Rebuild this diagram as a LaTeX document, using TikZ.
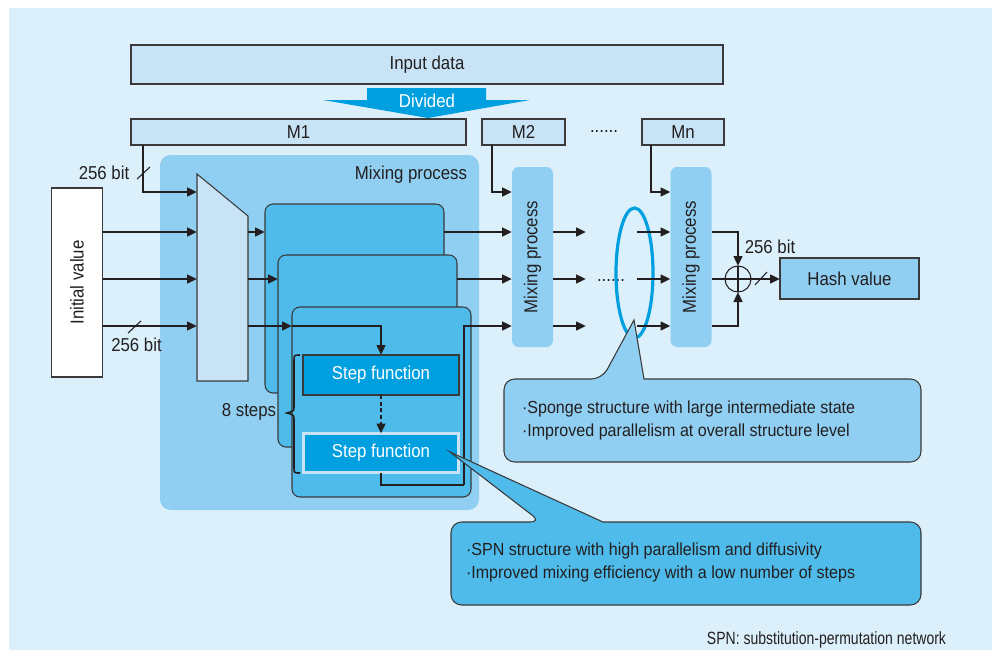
\documentclass[tikz,border=0pt]{standalone}
\usepackage{fontspec}
\setmainfont{Liberation Sans}[FakeStretch=0.9]
\newfontfamily\calloutfont{Liberation Sans}[FakeStretch=0.92]
\newfontfamily\notefont{Liberation Sans}[FakeStretch=0.79]
\usetikzlibrary{arrows.meta,shapes.geometric,calc}
\definecolor{bgc}{HTML}{DBF0FB}
\definecolor{lightc}{HTML}{C8E3F6}
\definecolor{midc}{HTML}{90CFF1}
\definecolor{stackc}{HTML}{4EBBEA}
\definecolor{deepc}{HTML}{009FE0}
\definecolor{ink}{HTML}{231F20}
\definecolor{edgec}{HTML}{3A3A3A}
\begin{document}
\begin{tikzpicture}[x=0.75pt,y=-0.75pt,
  every node/.style={font=\fontsize{14}{17.25}\selectfont, text=ink, inner sep=0pt, outer sep=0pt},
  bw/.style={minimum width=#1*0.75pt},
  bh/.style={minimum height=#1*0.75pt},
  lbox/.style={draw=edgec, fill=lightc, line width=0.8pt},
  stackbox/.style={draw=edgec, fill=stackc, rounded corners=6pt, line width=0.8pt},
  mpbox/.style={fill=midc, rounded corners=5pt},
  wire/.style={draw=ink, line width=1.8pt},
  conn/.style={wire, -{Triangle[length=7.5pt,width=6.5pt]}},
  slash/.style={draw=ink, line width=0.8pt},
  callout/.style={draw=edgec, line width=0.8pt},
  callouttext/.style={anchor=west, align=left, font=\calloutfont\fontsize{13.1}{17.25}\selectfont}
]
\useasboundingbox (0,0) rectangle (995,650);
\fill[white] (0,0) rectangle (995,650);
\fill[bgc] (9,8) rectangle (992,650);

% input data and division
\node[lbox,bw=592,bh=39] (input) at (427,64.5) {Input data};
\fill[deepc] (367,88) -- (486,88) -- (486,100) -- (530,100) -- (428,118) -- (323,100) -- (367,100) -- cycle;
\node[text=white] (divided) at (427,101) {Divided};

\node[lbox,bw=335,bh=26] (M1) at (298.5,132) {M1};
\node[lbox,bw=83,bh=26] (M2) at (523.5,132) {M2};
\node[lbox,bw=82,bh=26] (Mn) at (683,132) {Mn};
\node[anchor=base] (mdots) at (604,132.5) {......};

% mixing process region
\node[fill=midc, rounded corners=8pt, bw=319, bh=355] (mixreg) at (319.5,332.5) {};
\node[anchor=east] (mixlabel) at (467,175) {Mixing process};

% initial value
\node[draw=edgec, fill=white, line width=0.8pt, bw=51, bh=189] (iv) at (77,282.5) {};
\node[rotate=90] (ivtext) at (iv.center) {Initial value};

% mux
\draw[fill=lightc, draw=edgec, line width=0.8pt] (197,174) -- (248,216) -- (248,381) -- (197,381) -- cycle;
\coordinate (mi1) at (197,192);
\coordinate (mi2) at (197,232);
\coordinate (mi3) at (197,279);
\coordinate (mi4) at (197,326);
\coordinate (mo2) at (248,232);
\coordinate (mo3) at (248,279);
\coordinate (mo4) at (248,326);

% stacked mixing boxes
\node[stackbox,bw=179,bh=189] (s1) at (354.5,298.5) {};
\node[stackbox,bw=179,bh=192] (s2) at (367.5,351) {};
\node[stackbox,bw=179,bh=190] (s3) at (381.5,402) {};
\node[fill=deepc, draw=edgec, line width=0.8pt, bw=156, bh=40, text=white] (step1) at (381,375) {Step function};
\node[fill=deepc, draw=lightc, line width=2.2pt, bw=155, bh=39, text=white] (step2) at (381,453) {Step function};

% brace and 8 steps
\draw[ink, line width=1.2pt] (300,355) .. controls (294,355) .. (294,361) -- (294,406)
  .. controls (294,411) .. (287,413) .. controls (294,415) .. (294,420) -- (294,467)
  .. controls (294,473) .. (300,473);
\node (steps) at (249,412) {8 steps};

% connectors left part
\draw[conn] ([xshift=9pt]M1.south west) |- (mi1);
\draw[slash] (137,179) -- (150,167);
\node (bitA) at (104,173) {256 bit};
\draw[conn] (iv.east |- mi2) -- (mi2);
\draw[conn] (iv.east |- mi3) -- (mi3);
\draw[conn] (iv.east |- mi4) -- (mi4);
\draw[slash] (128,333) -- (141,321);
\node (bitB) at (136.5,345) {256 bit};

\draw[conn] (mo2) -- (s1.west |- mo2);
\draw[conn] (mo3) -- (s2.west |- mo3);
\draw[conn] (mo4) -- (s3.west |- mo4);
\draw[conn] (s3.west |- mo4) -| (step1.north);
\draw[conn, dashed, dash pattern=on 3pt off 2pt] (step1.south) -- (step2.north);

% second mixing process
\node[mpbox,bw=41,bh=180] (mp2) at (532.5,257) {};
\node[rotate=90] (mp2text) at (mp2.center) {Mixing process};
\coordinate (mp2i0) at (512,192);
\coordinate (mp2i1) at (512,232);
\coordinate (mp2i2) at (512,279);
\coordinate (mp2i3) at (512,326);
\coordinate (ret) at (464,485);

\draw[conn] ([xshift=7.5pt]M2.south west) |- (mp2i0);
\draw[conn] (s1.east |- mp2i1) -- (mp2i1);
\draw[conn] (s2.east |- mp2i2) -- (mp2i2);
\draw[wire] (step2.south) |- (ret);
\draw[conn] (ret) |- (mp2i3);

\coordinate (o1) at (586,232);
\coordinate (o2) at (586,279);
\coordinate (o3) at (586,326);
\draw[conn] (mp2.east |- o1) -- (o1);
\draw[conn] (mp2.east |- o2) -- (o2);
\draw[conn] (mp2.east |- o3) -- (o3);
\node[anchor=base] (rdots) at (611,281) {......};

% ellipse
\node[ellipse, draw=deepc, line width=2.4pt, bw=37, bh=130] (ell) at (634.5,273) {};

% last mixing process
\node[mpbox,bw=41,bh=180] (mpn) at (691,257) {};
\node[rotate=90] (mpntext) at (mpn.center) {Mixing process};
\coordinate (p1) at (637,232);
\coordinate (p2) at (637,279);
\coordinate (p3) at (637,326);
\draw[conn] (p1) -- (mpn.west |- p1);
\draw[conn] (p2) -- (mpn.west |- p2);
\draw[conn] (p3) -- (mpn.west |- p3);
\draw[conn] ([xshift=6.75pt]Mn.south west) |- (mpn.west |- mp2i0);

% xor and hash
\node[circle, draw=ink, line width=0.8pt, minimum size=19.5pt] (xor) at (738,279) {};
\draw[ink, line width=0.8pt] (xor.north) -- (xor.south) (xor.west) -- (xor.east);
\node[draw=edgec, fill=midc, line width=0.8pt, bw=139, bh=41] (hash) at (849.5,278.5) {Hash value};
\draw[conn] (mpn.east |- p1) -| (xor.north);
\draw[conn] (mpn.east |- p3) -| (xor.south);
\draw[wire] (mpn.east |- xor) -- (xor.west);
\draw[conn] (xor.east) -- (hash.west |- xor.east);
\draw[slash] (755,285) -- (767,272);
\node (bitC) at (770,247) {256 bit};

% callout 1
\draw[callout, fill=midc, rounded corners=8pt] (504,379) -- (602,379) [sharp corners] -- (634,320) -- (644,379) [rounded corners=8pt] -- (921,379) -- (921,462) -- (504,462) -- cycle;
\node[callouttext] (c1text) at (522,420.5) {·Sponge structure with large intermediate state\\·Improved parallelism at overall structure level};

% callout 2
\draw[callout, fill=stackc, rounded corners=8pt] (451,522) -- (541,522) [sharp corners] -- (450,452) -- (603,522) [rounded corners=8pt] -- (921,522) -- (921,605) -- (451,605) -- cycle;
\node[callouttext] (c2text) at (466,562.5) {·SPN structure with high parallelism and diffusivity\\·Improved mixing efficiency with a low number of steps};

\node[anchor=east, font=\notefont\fontsize{13.3}{16}\selectfont] (fn) at (946,640) {SPN: substitution-permutation network};
\end{tikzpicture}
\end{document}
